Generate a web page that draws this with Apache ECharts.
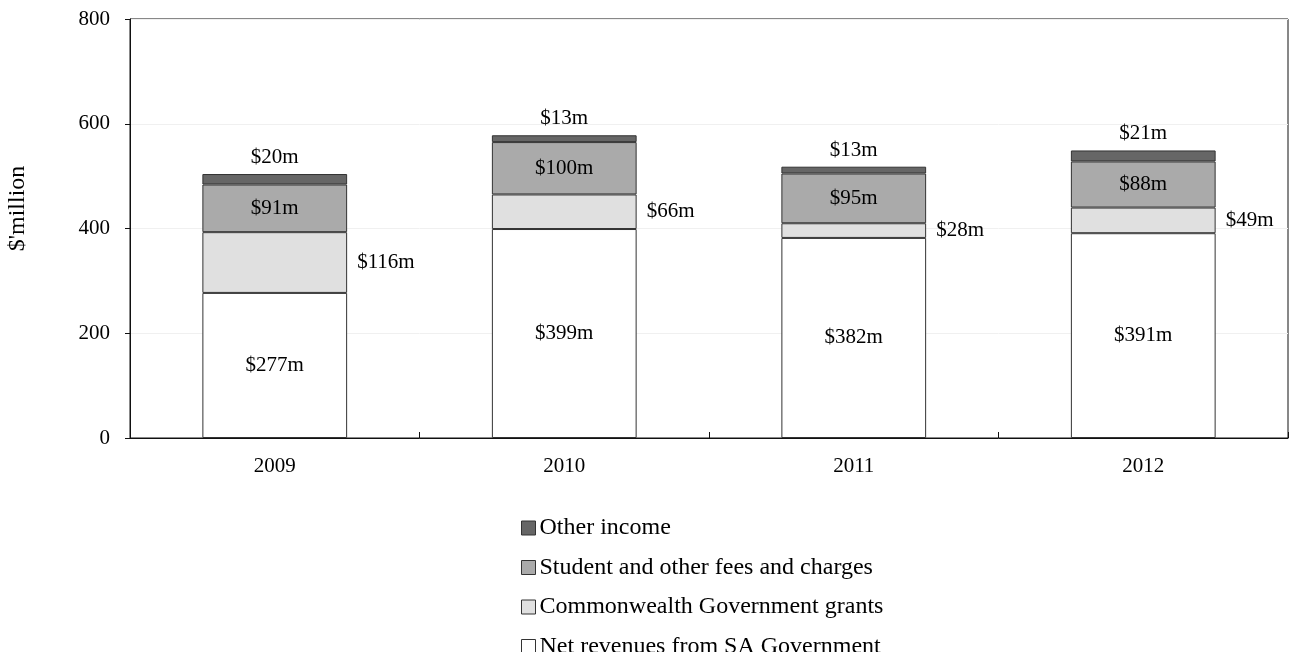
<!DOCTYPE html>
<html>
<head>
<meta charset="utf-8">
<script src="https://cdn.jsdelivr.net/npm/echarts@6/dist/echarts.min.js"></script>
<style>
  html, body { margin: 0; padding: 0; background: #fff; }
  #chart { width: 1290px; height: 652px; }
</style>
</head>
<body>
<div id="chart"></div>
<script>
// Revenue sources by year, $ million
const years = ['2009', '2010', '2011', '2012'];
const netRevenueSA = [277, 399, 382, 391];
const commonwealthGrants = [116, 66, 28, 49];
const studentFees = [91, 100, 95, 88];
const otherIncome = [20, 13, 13, 21];
const yTicks = { min: 0, max: 800, interval: 200 };

const FONT = '"Liberation Serif", "Times New Roman", serif';
const FS = 21;
const fmt = p => '$' + p.value + 'm';
const border = { borderColor: '#333', borderWidth: 1 };

const chart = echarts.init(document.getElementById('chart'));
chart.setOption({
  animation: false,
  textStyle: { fontFamily: FONT, color: '#000' },
  grid: {
    left: 130, right: 2, top: 19, bottom: 214,
    outerBoundsMode: 'none',
    show: true, borderColor: '#111', borderWidth: 1, backgroundColor: 'transparent'
  },
  legend: {
    orient: 'vertical',
    left: 521, top: 516, height: 200,
    padding: 0,
    itemWidth: 14, itemHeight: 14, itemGap: 15.5,
    icon: 'rect',
    itemStyle: { borderColor: '#333', borderWidth: 1 },
    textStyle: { fontFamily: FONT, fontSize: 24, color: '#000', padding: [0, 0, 0, -1] },
    data: ['Other income', 'Student and other fees and charges',
           'Commonwealth Government grants', 'Net revenues from SA Government']
  },
  xAxis: {
    type: 'category',
    data: years,
    axisLine: { lineStyle: { color: '#111' } },
    axisTick: { show: true, inside: true, length: 6, lineStyle: { color: '#111' } },
    axisLabel: { fontFamily: FONT, fontSize: FS, color: '#000', margin: 18 }
  },
  yAxis: {
    type: 'value',
    min: yTicks.min, max: yTicks.max, interval: yTicks.interval,
    name: "$'million",
    nameLocation: 'middle',
    nameGap: 100,
    nameRotate: 90,
    nameTextStyle: { fontFamily: FONT, fontSize: 24, color: '#000', padding: [0, 0, 0, 40] },
    axisLine: { show: true, lineStyle: { color: '#111' } },
    axisTick: { show: true, length: 5, lineStyle: { color: '#111' } },
    axisLabel: { fontFamily: FONT, fontSize: FS, color: '#000', margin: 20 },
    splitLine: { show: true, lineStyle: { color: '#f0f0f0' } }
  },
  series: [
    {
      name: 'Net revenues from SA Government', type: 'bar', stack: 'rev',
      barWidth: '50%', data: netRevenueSA,
      itemStyle: Object.assign({ color: '#ffffff' }, border),
      label: { show: true, position: 'inside', formatter: fmt, fontFamily: FONT, fontSize: FS, color: '#000' }
    },
    {
      name: 'Commonwealth Government grants', type: 'bar', stack: 'rev',
      data: commonwealthGrants,
      itemStyle: Object.assign({ color: '#e0e0e0' }, border),
      label: { show: true, position: 'right', distance: 10, formatter: fmt, fontFamily: FONT, fontSize: FS, color: '#000' }
    },
    {
      name: 'Student and other fees and charges', type: 'bar', stack: 'rev',
      data: studentFees,
      itemStyle: Object.assign({ color: '#aaaaaa' }, border),
      label: { show: true, position: 'inside', formatter: fmt, fontFamily: FONT, fontSize: FS, color: '#000' }
    },
    {
      name: 'Other income', type: 'bar', stack: 'rev',
      data: otherIncome,
      itemStyle: Object.assign({ color: '#666666' }, border),
      label: { show: true, position: 'top', distance: 6, formatter: fmt, fontFamily: FONT, fontSize: FS, color: '#000' }
    }
  ]
});
</script>
</body>
</html>
